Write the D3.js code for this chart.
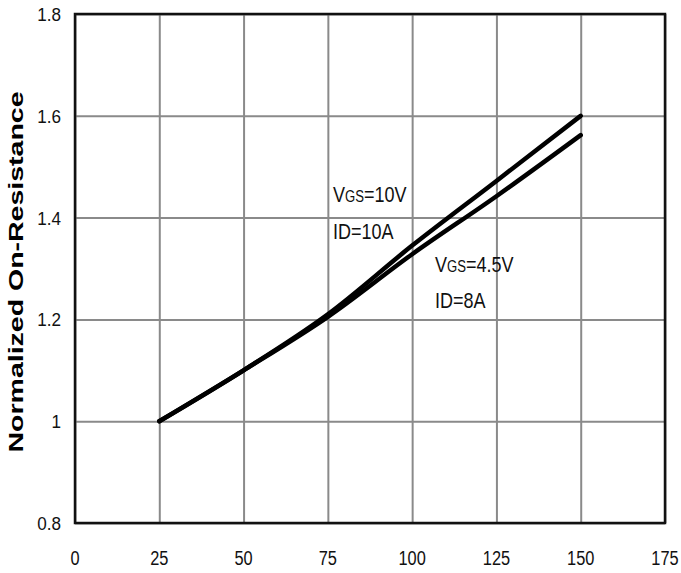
<!DOCTYPE html>
<html>
<head>
<meta charset="utf-8">
<script src="https://cdn.jsdelivr.net/npm/d3@7"></script>
<style>
  body { margin: 0; background: #fff; }
</style>
</head>
<body>
<div id="chart"></div>
<script>
// data
var temps = [25, 50, 75, 100, 125, 150]
var vgs10 = [1.0, 1.1, 1.21, 1.345, 1.472, 1.6]
var vgs45 = [1.0, 1.1, 1.205, 1.328, 1.442, 1.562]
var xTicks = [0, 25, 50, 75, 100, 125, 150, 175]
var yTicks = [0.8, 1.0, 1.2, 1.4, 1.6, 1.8]
var yTickLabels = ["0.8", "1", "1.2", "1.4", "1.6", "1.8"]

var width = 681, height = 573
var margin = {top: 14, right: 16, bottom: 50, left: 75}
var font = "'Liberation Sans', Arial, sans-serif"

var svg = d3.select("#chart")
    .append("svg")
    .attr("width", width)
    .attr("height", height)

var x = d3.scaleLinear()
    .domain([0, 175])
    .range([margin.left, width - margin.right])

var y = d3.scaleLinear()
    .domain([0.8, 1.8])
    .range([height - margin.bottom, margin.top])

// grid
svg.append("g")
    .attr("transform", "translate(0," + (height - margin.bottom) + ")")
    .call(d3.axisBottom(x)
            .tickValues(xTicks)
            .tickSize(-(y.range()[0] - y.range()[1]))
            .tickFormat(""))
    .call(g => g.select(".domain").remove())
    .selectAll("line")
      .attr("stroke", "#8a8a8a")
      .attr("stroke-width", 2)

svg.append("g")
    .attr("transform", "translate(" + margin.left + ",0)")
    .call(d3.axisLeft(y)
            .tickValues(yTicks)
            .tickSize(-(x.range()[1] - x.range()[0]))
            .tickFormat(""))
    .call(g => g.select(".domain").remove())
    .selectAll("line")
      .attr("stroke", "#8a8a8a")
      .attr("stroke-width", 2)

// frame
svg.append("rect")
    .attr("x", x(0))
    .attr("y", y(1.8))
    .attr("width", x(175) - x(0))
    .attr("height", y(0.8) - y(1.8))
    .attr("fill", "none")
    .attr("stroke", "#111")
    .attr("stroke-width", 2.5)

// tick labels (squeezed horizontally to look like a narrow face)
svg.append("g")
    .selectAll("text")
    .data(xTicks)
    .enter()
    .append("text")
      .attr("transform", d => "translate(" + x(d) + ",565) scale(0.78,1)")
      .attr("text-anchor", "middle")
      .style("font-family", font)
      .style("font-size", "21px")
      .attr("fill", "#111")
      .text(d => d)

svg.append("g")
    .selectAll("text")
    .data(yTicks)
    .enter()
    .append("text")
      .attr("transform", d => "translate(61," + (y(d) + 7) + ") scale(0.9,1)")
      .attr("text-anchor", "end")
      .style("font-family", font)
      .style("font-size", "19px")
      .attr("fill", "#111")
      .text((d, i) => yTickLabels[i])

// y axis title
svg.append("text")
    .attr("transform", "translate(23," + 272 + ") rotate(-90)")
    .attr("text-anchor", "middle")
    .attr("textLength", 361)
    .attr("lengthAdjust", "spacingAndGlyphs")
    .style("font-family", font)
    .style("font-weight", "bold")
    .style("font-size", "21px")
    .attr("fill", "#000")
    .text("Normalized On-Resistance")

// curves
var line = d3.line()
    .x((d, i) => x(temps[i]))
    .y(d => y(d))
    .curve(d3.curveMonotoneX)

svg.append("path")
    .datum(vgs45)
    .attr("d", line)
    .attr("fill", "none")
    .attr("stroke", "#000")
    .attr("stroke-width", 4.5)
    .attr("stroke-linecap", "round")

svg.append("path")
    .datum(vgs10)
    .attr("d", line)
    .attr("fill", "none")
    .attr("stroke", "#000")
    .attr("stroke-width", 4.5)
    .attr("stroke-linecap", "round")

// annotations
function label(px, py, parts) {
    var t = svg.append("text")
        .attr("transform", "translate(" + px + "," + py + ") scale(0.82,1)")
        .style("font-family", font)
        .style("font-size", "22px")
        .attr("fill", "#111")
    parts.forEach(function(p) {
        t.append("tspan")
            .style("font-size", p[1] + "px")
            .text(p[0])
    })
}

label(333, 202, [["V", 22], ["GS", 16], ["=10V", 22]])
label(333, 239, [["ID=10A", 22]])
label(435, 272, [["V", 22], ["GS", 16], ["=4.5V", 22]])
label(435, 308, [["ID=8A", 22]])
</script>
</body>
</html>
